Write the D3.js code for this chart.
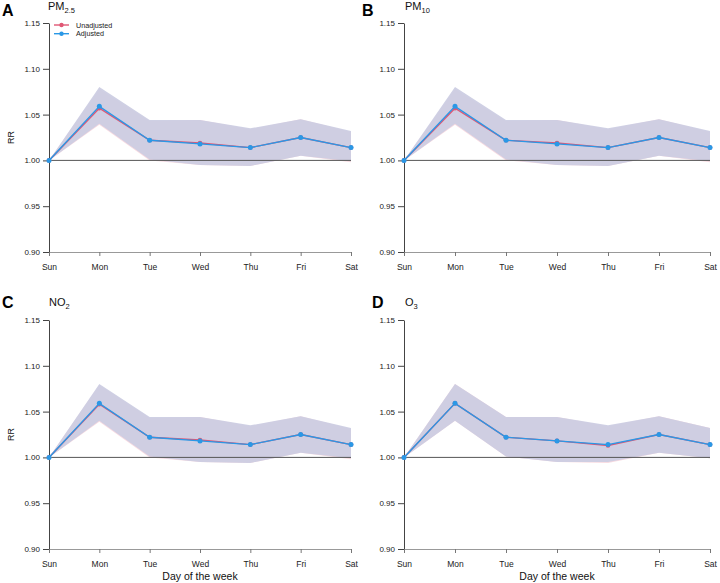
<!DOCTYPE html>
<html>
<head>
<meta charset="utf-8">
<script src="https://cdn.jsdelivr.net/npm/d3@7"></script>
<style>
  html, body { margin: 0; padding: 0; background: #fff; }
  svg { display: block; font-family: "Liberation Sans", Arial, Helvetica, sans-serif; }
</style>
</head>
<body>
<svg id="chart" width="720" height="583"></svg>
<script>
// ---------------- data ----------------
const days = ["Sun", "Mon", "Tue", "Wed", "Thu", "Fri", "Sat"];
const yTicks = [0.90, 0.95, 1.00, 1.05, 1.10, 1.15];
const seriesNames = ["Unadjusted", "Adjusted"];
const panelLetters = ["A", "B", "C", "D"];
const panelTitles = [["PM", "2.5"], ["PM", "10"], ["NO", "2"], ["O", "3"]];

// PM2.5
const pm25Adj   = [1, 1.059, 1.022, 1.018, 1.014, 1.025, 1.014];
const pm25Unadj = [1, 1.057, 1.022, 1.019, 1.014, 1.025, 1.014];
const pm25AdjLo = [1, 1.040, 1.001, 0.995, 0.994, 1.005, 0.999];
const pm25AdjHi = [1, 1.080, 1.044, 1.044, 1.035, 1.045, 1.032];
const pm25UnLo  = [1, 1.039, 1.000, 0.995, 0.994, 1.005, 0.998];
const pm25UnHi  = [1, 1.078, 1.043, 1.044, 1.034, 1.045, 1.031];
// PM10
const pm10Adj   = [1, 1.059, 1.022, 1.018, 1.014, 1.025, 1.014];
const pm10Unadj = [1, 1.057, 1.022, 1.019, 1.014, 1.025, 1.014];
const pm10AdjLo = [1, 1.040, 1.001, 0.995, 0.994, 1.005, 0.999];
const pm10AdjHi = [1, 1.080, 1.044, 1.044, 1.035, 1.045, 1.032];
const pm10UnLo  = [1, 1.039, 1.000, 0.995, 0.994, 1.005, 0.998];
const pm10UnHi  = [1, 1.078, 1.043, 1.044, 1.034, 1.045, 1.031];
// NO2
const no2Adj   = [1, 1.059, 1.022, 1.018, 1.014, 1.025, 1.014];
const no2Unadj = [1, 1.058, 1.022, 1.019, 1.014, 1.025, 1.014];
const no2AdjLo = [1, 1.040, 1.001, 0.995, 0.994, 1.005, 0.999];
const no2AdjHi = [1, 1.080, 1.044, 1.044, 1.035, 1.045, 1.032];
const no2UnLo  = [1, 1.039, 1.000, 0.995, 0.994, 1.005, 0.998];
const no2UnHi  = [1, 1.079, 1.043, 1.044, 1.034, 1.045, 1.031];
// O3
const o3Adj   = [1, 1.059, 1.022, 1.018, 1.014, 1.025, 1.014];
const o3Unadj = [1, 1.059, 1.022, 1.018, 1.013, 1.025, 1.014];
const o3AdjLo = [1, 1.040, 1.001, 0.995, 0.995, 1.005, 0.999];
const o3AdjHi = [1, 1.080, 1.044, 1.044, 1.035, 1.045, 1.032];
const o3UnLo  = [1, 1.040, 1.001, 0.995, 0.994, 1.005, 0.999];
const o3UnHi  = [1, 1.080, 1.044, 1.044, 1.034, 1.045, 1.032];

const panelData = [
  {adj: pm25Adj, unadj: pm25Unadj, adjLo: pm25AdjLo, adjHi: pm25AdjHi, unLo: pm25UnLo, unHi: pm25UnHi},
  {adj: pm10Adj, unadj: pm10Unadj, adjLo: pm10AdjLo, adjHi: pm10AdjHi, unLo: pm10UnLo, unHi: pm10UnHi},
  {adj: no2Adj,  unadj: no2Unadj,  adjLo: no2AdjLo,  adjHi: no2AdjHi,  unLo: no2UnLo,  unHi: no2UnHi},
  {adj: o3Adj,   unadj: o3Unadj,   adjLo: o3AdjLo,   adjHi: o3AdjHi,   unLo: o3UnLo,   unHi: o3UnHi}
];

// ---------------- layout ----------------
const layout = [
  {x0: 49,  x1: 351, yTop: 23,  yBot: 252, letterX: 2,   letterY: 16,  titleX: 48,  titleY: 10,  rr: true,  xlab: false, legend: true},
  {x0: 404, x1: 710, yTop: 23,  yBot: 252, letterX: 362, letterY: 16,  titleX: 405, titleY: 10,  rr: false, xlab: false, legend: false},
  {x0: 49,  x1: 351, yTop: 320, yBot: 549, letterX: 2,   letterY: 308, titleX: 49,  titleY: 306, rr: true,  xlab: true,  legend: false},
  {x0: 404, x1: 710, yTop: 320, yBot: 549, letterX: 372, letterY: 308, titleX: 405, titleY: 306, rr: false, xlab: true,  legend: false}
];

const colAdj = "#2a98e6";
const colUn = "#e05774";
const bandAdj = "#cbcce2";
const bandUn = "#f3c3cd";

const svg = d3.select("#chart");

layout.forEach((L, i) => {
  const D = panelData[i];
  const x = d3.scalePoint().domain(days).range([L.x0, L.x1]);
  const y = d3.scaleLinear().domain([0.90, 1.15]).range([L.yBot, L.yTop]);
  const g = svg.append("g");

  // bands
  const area = (lo, hi) => d3.area()
    .x((d, k) => x(days[k]))
    .y0((d, k) => y(lo[k]))
    .y1((d, k) => y(hi[k]));
  g.append("path").attr("d", area(D.unLo, D.unHi)(days))
    .attr("fill", bandUn).attr("fill-opacity", 0.6);
  g.append("path").attr("d", area(D.adjLo, D.adjHi)(days))
    .attr("fill", bandAdj).attr("fill-opacity", 0.93);

  // reference line at 1.00
  g.append("line")
    .attr("x1", L.x0).attr("x2", L.x1)
    .attr("y1", y(1)).attr("y2", y(1))
    .attr("stroke", "#555").attr("stroke-width", 1);

  // y axis
  const ya = g.append("g").attr("transform", `translate(${L.x0},0)`)
    .call(d3.axisLeft(y).tickValues(yTicks).tickFormat(d3.format(".2f")).tickSize(6).tickSizeOuter(0).tickPadding(3));
  ya.select(".domain").attr("stroke", "#444").attr("stroke-width", 1);
  ya.selectAll(".tick line").attr("stroke", "#444");
  ya.selectAll(".tick text").attr("font-size", 8).attr("fill", "#222")
    .attr("font-family", "Liberation Sans, Arial, sans-serif");

  // x axis
  const xa = g.append("g").attr("transform", `translate(0,${L.yBot})`)
    .call(d3.axisBottom(x).tickSize(4).tickSizeOuter(0).tickPadding(8));
  xa.select(".domain").attr("stroke", "#999").attr("stroke-width", 1.2);
  xa.selectAll(".tick line").attr("stroke", "#777");
  xa.selectAll(".tick text").attr("font-size", 8.5).attr("fill", "#222")
    .attr("font-family", "Liberation Sans, Arial, sans-serif");

  // lines
  const line = vals => d3.line().x((d, k) => x(days[k])).y((d, k) => y(vals[k]))(days);
  g.append("path").attr("d", line(D.unadj)).attr("fill", "none")
    .attr("stroke", colUn).attr("stroke-width", 1.4);
  g.selectAll(null).data(D.unadj).enter().append("circle")
    .attr("cx", (d, k) => x(days[k])).attr("cy", d => y(d)).attr("r", 2.3).attr("fill", colUn);
  g.append("path").attr("d", line(D.adj)).attr("fill", "none")
    .attr("stroke", colAdj).attr("stroke-width", 1.4);
  g.selectAll(null).data(D.adj).enter().append("circle")
    .attr("cx", (d, k) => x(days[k])).attr("cy", d => y(d)).attr("r", 2.5).attr("fill", colAdj);

  // panel letter
  svg.append("text").attr("x", L.letterX).attr("y", L.letterY)
    .attr("font-size", 16).attr("font-weight", "bold").attr("fill", "#000")
    .text(panelLetters[i]);

  // title with subscript
  const t = svg.append("text").attr("x", L.titleX).attr("y", L.titleY)
    .attr("font-size", 11).attr("fill", "#111");
  t.append("tspan").text(panelTitles[i][0]);
  t.append("tspan").attr("font-size", 7.5).attr("dy", 2.5).text(panelTitles[i][1]);

  // RR label
  if (L.rr) {
    svg.append("text")
      .attr("transform", `translate(14,${(L.yTop + L.yBot) / 2}) rotate(-90)`)
      .attr("text-anchor", "middle").attr("font-size", 9).attr("fill", "#111")
      .text("RR");
  }

  // x axis title
  if (L.xlab) {
    svg.append("text").attr("x", (L.x0 + L.x1) / 2).attr("y", 580)
      .attr("text-anchor", "middle").attr("font-size", 10.5).attr("fill", "#111")
      .text("Day of the week");
  }

  // legend
  if (L.legend) {
    const cols = [colUn, colAdj];
    seriesNames.forEach((name, k) => {
      const ly = 25 + k * 8.7;
      const lg = svg.append("g");
      lg.append("line").attr("x1", 54).attr("x2", 69).attr("y1", ly).attr("y2", ly)
        .attr("stroke", cols[k]).attr("stroke-width", 1.4);
      lg.append("circle").attr("cx", 61.5).attr("cy", ly).attr("r", 2.2).attr("fill", cols[k]);
      lg.append("text").attr("x", 76).attr("y", ly + 2.5).attr("font-size", 7.2).attr("fill", "#222")
        .text(name);
    });
  }
});
</script>
</body>
</html>
